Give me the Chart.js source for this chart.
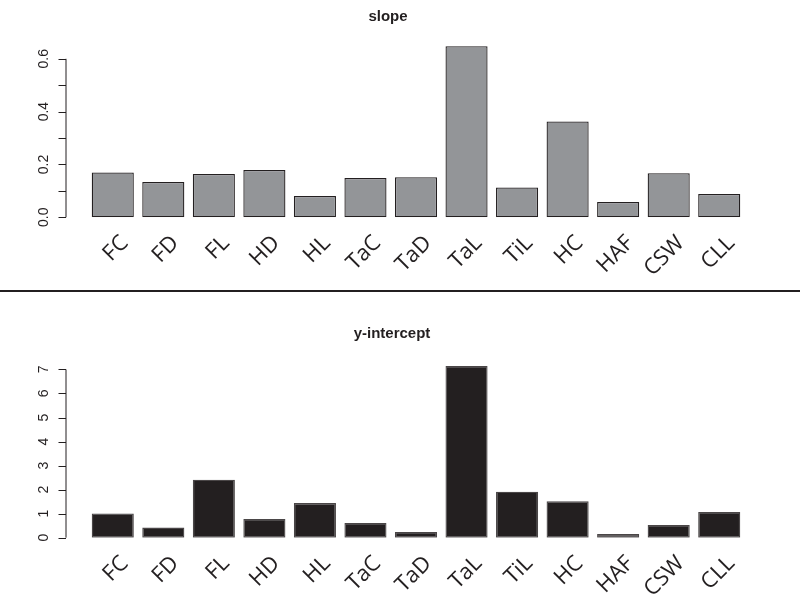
<!DOCTYPE html>
<html>
<head>
<meta charset="utf-8">
<script src="https://cdn.jsdelivr.net/npm/chart.js@4"></script>
<style>
  body { margin: 0; background: #fff; width: 800px; height: 604px; overflow: hidden; }
  canvas { display: block; }
  #sep { height: 2px; background: #231f20; }
</style>
</head>
<body>
<canvas id="slope" width="800" height="290"></canvas>
<div id="sep"></div>
<canvas id="intercept" width="800" height="312"></canvas>
<script>
// data
const categories = ['FC', 'FD', 'FL', 'HD', 'HL', 'TaC', 'TaD', 'TaL', 'TiL', 'HC', 'HAF', 'CSW', 'CLL'];
const slopeValues = [0.170, 0.134, 0.164, 0.179, 0.081, 0.149, 0.152, 0.648, 0.113, 0.363, 0.058, 0.167, 0.088];
const interceptValues = [1.01, 0.42, 2.41, 0.78, 1.44, 0.61, 0.24, 7.14, 1.91, 1.52, 0.15, 0.53, 1.07];
const slopeTicks = [0, 0.1, 0.2, 0.3, 0.4, 0.5, 0.6];
const slopeTickLabels = ['0.0', '', '0.2', '', '0.4', '', '0.6'];
const interceptTicks = [0, 1, 2, 3, 4, 5, 6, 7];
const interceptTickLabels = ['0', '1', '2', '3', '4', '5', '6', '7'];

const INK = '#231f20';

// R style y axis, drawn a little left of the plot area
const rAxis = {
  id: 'rAxis',
  afterDraw(chart, args, opts) {
    const ctx = chart.ctx;
    const y = chart.scales.y;
    const x0 = chart.chartArea.left - 22;
    const px = opts.ticks.map(v => y.getPixelForValue(v));
    ctx.save();
    ctx.strokeStyle = INK;
    ctx.lineWidth = 1;
    ctx.beginPath();
    ctx.moveTo(x0 + 0.5, px[0]);
    ctx.lineTo(x0 + 0.5, px[px.length - 1]);
    px.forEach(p => {
      ctx.moveTo(x0 + 0.5, Math.round(p) + 0.5);
      ctx.lineTo(x0 - 7, Math.round(p) + 0.5);
    });
    ctx.stroke();
    ctx.fillStyle = INK;
    ctx.font = '14px "Liberation Sans", Arial, sans-serif';
    ctx.textAlign = 'center';
    ctx.textBaseline = 'alphabetic';
    opts.labels.forEach((lab, i) => {
      if (!lab) return;
      ctx.save();
      ctx.translate(x0 - 18, px[i]);
      ctx.rotate(-Math.PI / 2);
      ctx.fillText(lab, 0, 0);
      ctx.restore();
    });
    ctx.restore();
  }
};

function makeChart(id, values, cfg) {
  return new Chart(document.getElementById(id), {
    type: 'bar',
    data: {
      labels: categories,
      datasets: [{
        data: values,
        backgroundColor: cfg.fill,
        borderColor: cfg.border,
        borderWidth: 1.3,
        borderSkipped: false,
        barPercentage: 0.833,
        categoryPercentage: 1
      }]
    },
    options: {
      responsive: false,
      animation: false,
      layout: { padding: { left: cfg.padLeft, right: 55.5, top: 0, bottom: 0 } },
      plugins: {
        legend: { display: false },
        tooltip: { enabled: false },
        title: {
          display: true,
          text: cfg.title,
          color: INK,
          font: { family: '"Liberation Sans", Arial, sans-serif', size: 15, weight: 'bold' },
          padding: cfg.titlePad
        },
        rAxis: { ticks: cfg.ticks, labels: cfg.tickLabels }
      },
      scales: {
        x: {
          offset: true,
          grid: { display: false },
          border: { display: false },
          ticks: {
            color: INK,
            font: { family: '"Open Sans", sans-serif', size: 22 },
            minRotation: 45,
            maxRotation: 45,
            autoSkip: false,
            labelOffset: 12,
            padding: 5
          },
          afterFit: s => { s.height = cfg.xHeight; }
        },
        y: {
          min: 0,
          max: cfg.max,
          grid: { display: false },
          border: { display: false },
          ticks: { display: false },
          afterFit: s => { s.width = 87.5 - cfg.padLeft; }
        }
      }
    },
    plugins: [rAxis]
  });
}

makeChart('slope', slopeValues, {
  title: 'slope', fill: '#939598', border: INK, max: 0.675,
  ticks: slopeTicks, tickLabels: slopeTickLabels,
  padLeft: 31.5, xHeight: 72.7, titlePad: { top: 8, bottom: 13 }
});

makeChart('intercept', interceptValues, {
  title: 'y-intercept', fill: INK, border: '#4a4647', max: 7.43,
  ticks: interceptTicks, tickLabels: interceptTickLabels,
  padLeft: 39.5, xHeight: 66.3, titlePad: { top: 33, bottom: 16.1 }
});
</script>
</body>
</html>
